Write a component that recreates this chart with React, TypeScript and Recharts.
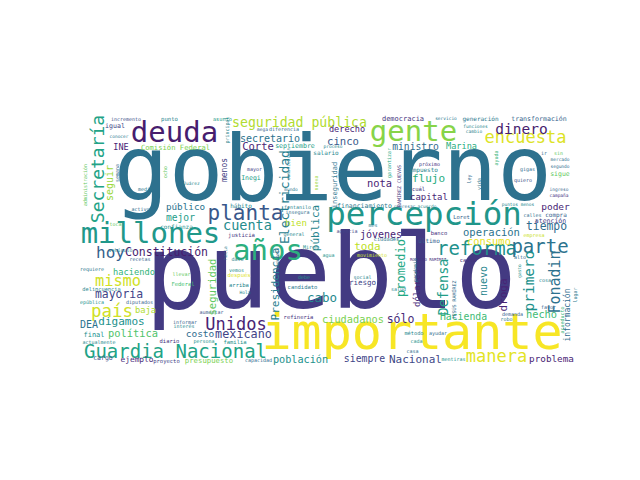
import React from "react";
import { ScatterChart, Scatter, XAxis, YAxis } from "recharts";

// [word, x, baseline y, size, tone]
const horizontalWords: [string, number, number, number, number][] = [
  ["gobierno", 333, 200, 91, 0.37],
  ["pueblo", 331, 308, 103, 0.17],
  ["importante", 412, 349, 50, 0.99],
  ["percepción", 424, 225, 32.5, 0.52],
  ["millones", 150.5, 243, 29, 0.53],
  ["años", 268, 260, 29, 0.63],
  ["gente", 413.5, 141, 29, 0.82],
  ["deuda", 174.5, 142, 29, 0.08],
  ["planta", 245.5, 220, 21, 0.27],
  ["reforma", 477, 255, 19, 0.5],
  ["parte", 540, 253, 19, 0.38],
  ["Guardia Nacional", 175.5, 358, 19, 0.58],
  ["Unidos", 236, 330, 17, 0.1],
  ["país", 112, 317, 17.4, 0.93],
  ["encuesta", 525.5, 143, 17, 0.95],
  ["manera", 496.5, 362, 17, 0.96],
  ["hoy", 110.5, 258, 16, 0.3],
  ["mismo", 118, 286, 15.3, 0.93],
  ["dinero", 521.5, 134, 14.5, 0.08],
  ["cuenta", 247.5, 230, 13.5, 0.48],
  ["seguridad pública", 299.5, 127, 13.2, 0.88],
  ["cabo", 322, 302, 12.5, 0.47],
  ["Constitución", 166.5, 256, 11.5, 0.08],
  ["mayoría", 119, 298, 11.4, 0.2],
  ["tiempo", 546.5, 230, 11.4, 0.35],
  ["mexicano", 243.5, 338, 11.8, 0.2],
  ["toda", 367.5, 250, 11, 0.9],
  ["flujo", 428.5, 182, 11, 0.62],
  ["digamos", 121.5, 325, 11, 0.5],
  ["nota", 379.5, 187, 10.4, 0.1],
  ["sólo", 400.5, 323, 11.5, 0.12],
  ["Nacional", 415.5, 363, 11, 0.22],
  ["cinco", 343, 145, 10.6, 0.28],
  ["Corte", 258, 150, 10.5, 0.1],
  ["ciudadanos", 353, 323, 10.3, 0.8],
  ["hecho", 541.5, 318, 10.3, 0.68],
  ["política", 133, 337, 10.4, 0.72],
  ["jóvenes", 381, 238, 10, 0.1],
  ["operación", 491.5, 236, 10.5, 0.38],
  ["consumo", 489, 245, 10.4, 0.97],
  ["población", 300.5, 363, 10.2, 0.5],
  ["secretario", 270, 142, 10, 0.38],
  ["Hacienda", 463.5, 320, 9.8, 0.68],
  ["siempre", 364.5, 362, 9.8, 0.2],
  ["ministro", 415.5, 150, 9.7, 0.35],
  ["mejor", 180.5, 221, 9.6, 0.55],
  ["poder", 555.5, 210, 9.5, 0.1],
  ["costo", 200, 337, 9.5, 0.35],
  ["público", 185.5, 210, 9.3, 0.38],
  ["problema", 551.5, 362, 9.3, 0.1],
  ["bien", 296, 226, 9, 0.9],
  ["capital", 429, 200, 9, 0.1],
  ["baja", 145.5, 313, 8.8, 0.88],
  ["haciendo", 134, 275, 8.7, 0.65],
  ["derecho", 347, 132, 8.6, 0.1],
  ["Marina", 461.5, 149, 8.6, 0.62],
  ["INE", 121, 150, 8.5, 0.1],
  ["DEA", 89, 328, 10, 0.38],
  ["ejemplo", 137, 362, 7.8, 0.12],
  ["riesgo", 362.5, 285, 7.5, 0.2],
  ["presupuesto", 209, 363, 7.3, 0.8],
  ["Comisión Federal", 175.5, 150, 7.2, 0.8],
  ["democracia", 403, 121, 7, 0.15],
  ["final", 94, 337, 7, 0.5],
  ["transformación", 539, 121, 6.6, 0.3],
  ["septiembre", 295, 148, 6.6, 0.55],
  ["igual", 115, 128, 6.6, 0.2],
  ["financiamiento", 364.5, 208, 6.5, 0.4],
  ["Inegi", 251, 180, 6.5, 0.55],
  ["cargo", 103, 360, 6.5, 0.25],
  ["atención", 550.5, 223, 6.5, 0.18],
  ["generación", 480.5, 121, 6, 0.4],
  ["impuesto", 423.5, 172, 6, 0.45],
  ["confianza", 176.5, 229, 6, 0.5],
  ["salario", 326, 155, 6, 0.45],
  ["último", 429, 243, 6, 0.3],
  ["compra", 556, 217, 6, 0.3],
  ["hábito", 241, 208, 6, 0.45],
  ["sigue", 560, 176, 6.5, 0.75],
  ["punto", 169.5, 121, 5.6, 0.45],
  ["justicia", 241.5, 237, 5.6, 0.15],
  ["arriba", 239, 287, 5.5, 0.45],
  ["candidato", 302.5, 289, 5.5, 0.4],
  ["familia", 235, 344, 5.5, 0.5],
  ["diario", 169.5, 343, 5.5, 0.15],
  ["proyecto", 166.5, 363, 5.5, 0.2],
  ["refinería", 298.5, 319, 5.5, 0.15],
  ["Federal", 183, 286, 5.5, 0.7],
  ["después", 239, 277, 5.5, 0.95],
  ["banco", 439, 235, 5.5, 0.15],
  ["causa", 468, 262, 5.5, 0.15],
  ["Loret", 461.5, 219, 5.5, 0.3],
  ["cuál", 418.5, 191, 5.5, 0.15],
  ["incremento", 126, 121, 5, 0.25],
  ["asunto", 222.5, 121, 5.3, 0.55],
  ["delincuencia", 101.5, 291, 5.3, 0.45],
  ["movimiento", 372, 257, 5, 0.93],
  ["ciudades", 386.5, 241, 5.3, 0.4],
  ["agencia", 347, 233, 5, 0.2],
  ["método", 414, 335, 5.3, 0.45],
  ["cada", 416.5, 343, 5, 0.5],
  ["casa", 412.5, 353, 5, 0.35],
  ["ayudar", 438, 335, 5, 0.35],
  ["demanda", 512.5, 316, 5, 0.3],
  ["robo", 506.5, 321, 5, 0.4],
  ["favor", 548.5, 309, 5, 0.3],
  ["mentiras", 453.5, 361, 5, 0.5],
  ["capacidad", 258.5, 362, 5, 0.35],
  ["actualmente", 99, 344, 5, 0.45],
  ["informar", 185, 324, 5, 0.3],
  ["interés", 184, 328, 5, 0.45],
  ["persona", 204, 343, 5, 0.5],
  ["aumentar", 211.5, 314, 5, 0.25],
  ["República", 90.5, 304, 5, 0.5],
  ["diputados", 139.5, 304, 5, 0.3],
  ["requiere", 92, 271, 5, 0.4],
  ["recetas", 140, 261, 5, 0.3],
  ["vehículo", 120.5, 252, 5, 0.45],
  ["llevar", 181.5, 276, 5, 0.75],
  ["toca", 115.5, 226, 5, 0.75],
  ["activo", 140.5, 211, 5, 0.35],
  ["medio", 145.5, 191, 5, 0.4],
  ["Juárez", 191.5, 185, 4.5, 0.45],
  ["conocer", 119, 138, 4.5, 0.4],
  ["mayor", 254.5, 171, 5, 0.2],
  ["mundo", 291, 191, 4.5, 0.4],
  ["general", 294, 236, 5, 0.45],
  ["Miren", 310.5, 249, 5, 0.5],
  ["fentanilo", 297.5, 209, 5, 0.45],
  ["insegura", 297.5, 214, 5, 0.35],
  ["dato", 237.5, 261, 5, 0.45],
  ["vemos", 236.5, 272, 5, 0.5],
  ["debe", 304, 279, 5, 0.5],
  ["Hola", 245, 294, 4.5, 0.45],
  ["social", 362.5, 279, 5, 0.45],
  ["salud", 398.5, 291, 5, 0.45],
  ["agua", 328.5, 257, 5, 0.5],
  ["mes", 373, 227, 5, 0.4],
  ["alto", 520, 259, 5, 0.35],
  ["cosa", 545, 282, 5, 0.45],
  ["calles", 532.5, 217, 5, 0.35],
  ["empresa", 534, 237, 5, 0.92],
  ["puntos menos", 518, 206, 4.5, 0.45],
  ["funciones", 475.5, 128, 4.5, 0.45],
  ["cambio", 474, 133, 4.5, 0.45],
  ["gigas", 527.5, 171, 5, 0.35],
  ["quiero", 523, 182, 5, 0.25],
  ["mercado", 560, 161, 4.5, 0.35],
  ["segundo", 560, 168, 4.5, 0.35],
  ["ingreso", 559, 191, 4.5, 0.3],
  ["campaña", 559, 197, 4.5, 0.15],
  ["sin", 558.5, 155, 5, 0.75],
  ["ir", 544, 155, 5, 0.35],
  ["servicio", 446, 120, 4.5, 0.4],
  ["próximo", 429.5, 166, 5, 0.15],
  ["regresar", 404.5, 208, 4.5, 0.35],
  ["acuerdo", 427, 208, 4.5, 0.45],
  ["proceso", 333, 148, 4.5, 0.45],
  ["mega", 262.5, 131, 4.5, 0.3],
  ["diferencia", 284, 131, 5, 0.35],
  ["ROGELIO RAMÍREZ", 428, 261, 4, 0.15],
];

// [word, baseline x, center y, size, tone]
const verticalWords: [string, number, number, number, number][] = [
  ["Secretaría", 104, 169, 18, 0.58],
  ["Fonadin", 560, 282, 15, 0.37],
  ["primero", 534, 281, 14.5, 0.5],
  ["Defensa", 448, 287, 13.5, 0.55],
  ["Electricidad", 289, 197, 13, 0.42],
  ["promedio", 405, 268, 12, 0.6],
  ["Presidencia", 279, 284, 11, 0.42],
  ["pública", 319, 228, 11, 0.45],
  ["droga", 507, 295, 11, 0.1],
  ["nuevo", 487, 281, 10, 0.45],
  ["dólares", 420, 288, 9, 0.12],
  ["seguir", 113, 183, 10, 0.85],
  ["seguridad", 216, 287, 10.5, 0.75],
  ["información", 570, 315, 8, 0.35],
  ["menos", 227, 170, 8, 0.18],
  ["inseguridad", 337, 185, 7, 0.38],
  ["principal", 229, 130, 5, 0.45],
  ["administración", 87, 185, 5, 0.75],
  ["semana", 119, 173, 5, 0.35],
  ["ocho", 167, 172, 5, 0.75],
  ["comunicación", 290, 164, 4.5, 0.45],
  ["nueva", 318, 183, 5, 0.85],
  ["garantizar", 391, 163, 5, 0.6],
  ["RAMÍREZ CUEVAS", 401, 186, 5, 0.15],
  ["ayuda", 498, 158, 5, 0.65],
  ["ley", 471, 179, 5, 0.35],
  ["vida", 481, 184, 5, 0.4],
  ["hacia", 227, 253, 4.5, 0.4],
  ["conservadores", 279, 268, 4.5, 0.35],
  ["pandemia", 417, 270, 5, 0.4],
  ["gasto", 521, 271, 4.5, 0.5],
  ["JESÚS RAMÍREZ", 456, 300, 5, 0.35],
  ["acueducto", 564, 320, 5, 0.65],
  ["lugar", 577, 295, 5, 0.4],
];

const viridisStops = [
  "#440154", "#482475", "#414487", "#355f8d", "#2a788e", "#21918c",
  "#22a884", "#44bf70", "#7ad151", "#bddf26", "#fde725",
];

function hexToRgb(h: string) {
  return [1, 3, 5].map((i) => parseInt(h.slice(i, i + 2), 16));
}

function viridis(t: number) {
  const v = Math.max(0, Math.min(1, t)) * 10;
  const i = Math.min(9, Math.floor(v));
  const f = v - i;
  const a = hexToRgb(viridisStops[i]);
  const b = hexToRgb(viridisStops[i + 1]);
  const c = a.map((ai, k) => Math.round(ai + (b[k] - ai) * f));
  return `rgb(${c[0]},${c[1]},${c[2]})`;
}

const rows = [
  ...horizontalWords.map(([word, x, y, size, tone]) => ({ word, x, y, size, tone, vertical: false })),
  ...verticalWords.map(([word, x, y, size, tone]) => ({ word, x, y, size, tone, vertical: true })),
];

const WordMark = (props: any) => {
  const { cx, cy, payload } = props;
  if (cx == null || cy == null) return null;
  return (
    <text
      x={cx}
      y={cy}
      textAnchor="middle"
      fontFamily="'DejaVu Sans Mono', monospace"
      fontSize={payload.size}
      fill={viridis(payload.tone)}
      transform={payload.vertical ? `rotate(-90 ${cx} ${cy})` : undefined}
    >
      {payload.word}
    </text>
  );
};

export default function App() {
  return (
    <div style={{ position: "absolute", left: 0, top: 0, width: 640, height: 480, background: "#fff" }}>
      <ScatterChart width={640} height={480} margin={{ top: 110, right: 60, bottom: 110, left: 80 }}>
        <XAxis type="number" dataKey="x" domain={[80, 580]} hide allowDataOverflow />
        <YAxis type="number" dataKey="y" domain={[110, 370]} reversed hide allowDataOverflow />
        <Scatter data={rows} isAnimationActive={false} shape={(p: any) => <WordMark {...p} />} />
      </ScatterChart>
    </div>
  );
}
